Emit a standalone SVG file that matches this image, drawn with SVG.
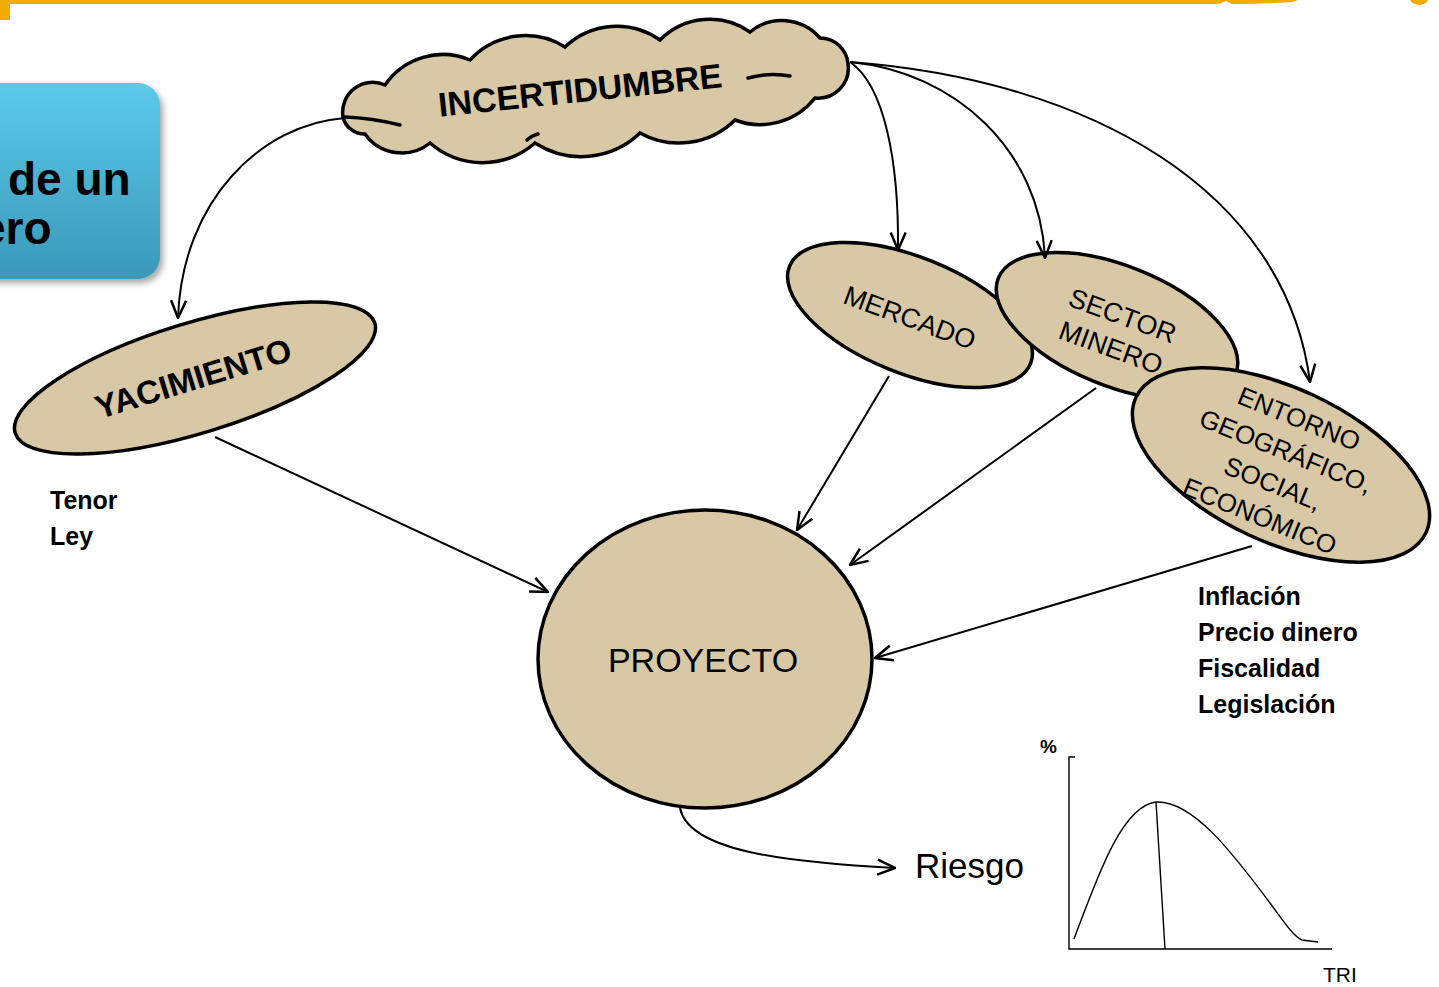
<svg xmlns="http://www.w3.org/2000/svg" width="1439" height="987" viewBox="0 0 1439 987">
<style>
  .shape { fill: #d8c8a6; stroke: #000; stroke-width: 3.5; }
  .inner { fill: none; stroke: #000; stroke-width: 3.5; stroke-linecap: round; }
  .conn { fill: none; stroke: #000; stroke-width: 2; }
  .lbl { font-family: "Liberation Sans", Arial, sans-serif; fill: #000; }
  .b { font-weight: bold; }
  .orange { fill: #f2ac00; }
  .chart { fill: none; stroke: #000; stroke-width: 1.4; }
</style>
<defs>
  <marker id="arr" viewBox="0 0 20 18" refX="19" refY="9" markerWidth="20" markerHeight="18" markerUnits="userSpaceOnUse" orient="auto">
    <path d="M1.5,1.5 L19,9 L1.5,16.5" fill="none" stroke="#000" stroke-width="2.5"/>
  </marker>
  <linearGradient id="blue" x1="0" y1="0" x2="0" y2="1">
    <stop offset="0" stop-color="#5ccae9"/>
    <stop offset="1" stop-color="#3a98b9"/>
  </linearGradient>
  <filter id="sh" x="-20%" y="-20%" width="150%" height="150%">
    <feDropShadow dx="3" dy="4" stdDeviation="3" flood-color="#000" flood-opacity="0.35"/>
  </filter>
</defs>

<rect width="1439" height="987" fill="#fff"/>

<!-- top decoration -->
<g id="top-bar">
  <rect class="orange" x="0" y="0" width="1218" height="4"/>
  <rect class="orange" x="0" y="0" width="10" height="20"/>
  <path class="orange" d="M1216,0 H1298 L1292,2 Q1265,4 1232,4 L1226,1 L1219,4 Z"/>
  <path class="orange" d="M1410,0 H1428 Q1425,5 1419,5 Q1412,4 1410,0 Z"/>
</g>

<!-- title box (cropped) -->
<g id="title-box">
  <rect x="-30" y="83" width="190" height="196" rx="22" fill="url(#blue)" filter="url(#sh)"/>
  <text class="lbl b" x="8" y="195" font-size="46">de un</text>
  <text class="lbl b" x="-20" y="244" font-size="46">ero</text>
</g>

<!-- nodes -->
<g id="node-incertidumbre">
  <path class="shape" d="M343,117
    A30,30 0 0 1 385,85
    A70,70 0 0 1 470,60
    A75,75 0 0 1 565,47
    A75,75 0 0 1 660,40
    A70,70 0 0 1 750,32
    A50,50 0 0 1 820,38
    A28,28 0 0 1 848,64
    A30,30 0 0 1 815,98
    A70,70 0 0 1 735,120
    A80,80 0 0 1 640,133
    A85,85 0 0 1 535,143
    A80,80 0 0 1 430,143
    A45,45 0 0 1 365,134
    A22,22 0 0 1 343,117 Z"/>
  <path class="inner" d="M345,117 Q372,118 400,125"/>
  <path class="inner" d="M748,78 Q770,72 790,76"/>
  <path class="inner" d="M527,140 Q531,136 538,134"/>
  <text class="lbl b" x="580" y="102" font-size="34" text-anchor="middle" transform="rotate(-6 580 90)">INCERTIDUMBRE</text>
</g>

<g id="node-yacimiento">
  <ellipse class="shape" cx="195" cy="378" rx="188" ry="55" transform="rotate(-17 195 378)"/>
  <text class="lbl b" x="193" y="390" font-size="33" text-anchor="middle" transform="rotate(-17 193 378)">YACIMIENTO</text>
</g>

<g id="node-mercado">
  <ellipse class="shape" cx="910" cy="315" rx="130" ry="58" transform="rotate(22 910 315)"/>
  <text class="lbl" x="910" y="327" font-size="27" text-anchor="middle" transform="rotate(20 910 317)">MERCADO</text>
</g>

<g id="node-sector">
  <ellipse class="shape" cx="1117" cy="326" rx="128" ry="60" transform="rotate(22 1117 326)"/>
  <g transform="rotate(20 1117 331)">
    <text class="lbl" x="1117" y="324" font-size="27" text-anchor="middle">SECTOR</text>
    <text class="lbl" x="1117" y="358" font-size="27" text-anchor="middle">MINERO</text>
  </g>
</g>

<g id="node-entorno">
  <ellipse class="shape" cx="1281" cy="465" rx="160" ry="77" transform="rotate(25 1281 465)"/>
  <g transform="rotate(22 1280 466)">
    <text class="lbl" x="1280" y="424" font-size="26" text-anchor="middle">ENTORNO</text>
    <text class="lbl" x="1280" y="459" font-size="26" text-anchor="middle">GEOGRÁFICO,</text>
    <text class="lbl" x="1280" y="494" font-size="26" text-anchor="middle">SOCIAL,</text>
    <text class="lbl" x="1280" y="529" font-size="26" text-anchor="middle">ECONÓMICO</text>
  </g>
</g>

<g id="node-proyecto">
  <ellipse class="shape" cx="705" cy="659" rx="167" ry="149"/>
  <text class="lbl" x="703" y="672" font-size="34" text-anchor="middle">PROYECTO</text>
</g>

<g id="node-riesgo">
  <text class="lbl" x="915" y="878" font-size="35">Riesgo</text>
</g>

<!-- connectors -->
<g id="connectors">
  <path class="conn" marker-end="url(#arr)" d="M345,118 C262,124 182,200 178,318"/>
  <path class="conn" marker-end="url(#arr)" d="M850,62 C884,85 899,160 898,250"/>
  <path class="conn" marker-end="url(#arr)" d="M850,62 C955,72 1040,150 1045,258"/>
  <path class="conn" marker-end="url(#arr)" d="M850,62 C1090,80 1285,190 1310,382"/>
  <path class="conn" marker-end="url(#arr)" d="M215,437 L548,592"/>
  <path class="conn" marker-end="url(#arr)" d="M889,376 L797,530"/>
  <path class="conn" marker-end="url(#arr)" d="M1096,388 L850,565"/>
  <path class="conn" marker-end="url(#arr)" d="M1252,546 L875,658"/>
  <path class="conn" marker-end="url(#arr)" d="M680,808 C688,850 780,862 895,868"/>
</g>

<!-- side labels -->
<g id="labels-yacimiento">
  <text class="lbl b" x="50" y="509" font-size="25">Tenor</text>
  <text class="lbl b" x="50" y="545" font-size="25">Ley</text>
</g>
<g id="labels-entorno">
  <text class="lbl b" x="1198" y="605" font-size="25">Inflación</text>
  <text class="lbl b" x="1198" y="641" font-size="25">Precio dinero</text>
  <text class="lbl b" x="1198" y="677" font-size="25">Fiscalidad</text>
  <text class="lbl b" x="1198" y="713" font-size="25">Legislación</text>
</g>

<!-- chart -->
<g id="chart-tri">
  <text class="lbl b" x="1040" y="753" font-size="19">%</text>
  <path class="chart" d="M1075,757 H1069 V949 H1332"/>
  <path class="chart" d="M1074,939 C1098,875 1122,806 1156,802 C1192,800 1232,852 1270,903 C1284,922 1293,936 1302,940 L1318,942"/>
  <path class="chart" d="M1156,802 L1165,949"/>
  <text class="lbl" x="1323" y="982" font-size="21">TRI</text>
</g>
</svg>
